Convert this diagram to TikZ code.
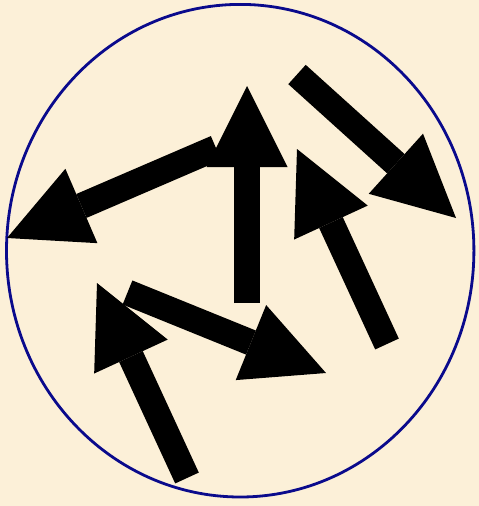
\documentclass[tikz,border=0pt]{standalone}
\usepackage{tikz}
\usetikzlibrary{arrows.meta}
\definecolor{PaperBeige}{HTML}{FCF0D8}
\definecolor{RimNavy}{HTML}{0A0A8C}

\begin{document}
\begin{tikzpicture}[x=1pt,y=-1pt,
 bigarrow/.style={line width=26pt,-{Triangle[length=81pt,width=81pt,line width=0pt]}}]
 \fill[PaperBeige] (0,0) rectangle (479,506);
 \useasboundingbox (0,0) rectangle (479,506);
 \draw[RimNavy,line width=2.8pt] (240.2,250.7) ellipse [x radius=233.7,y radius=246.3];
 % tails and tips
 \coordinate (upT) at (247,303);    \coordinate (upH) at (247,86);
 \coordinate (leftT) at (216,148);  \coordinate (leftH) at (7,238);
 \coordinate (diagT) at (297,74.5); \coordinate (diagH) at (456,218);
 \coordinate (riseT) at (387,344);  \coordinate (riseH) at (297,149);
 \coordinate (lowT) at (127.5,292.5); \coordinate (lowH) at (326,373);
 \coordinate (footT) at (187,478);  \coordinate (footH) at (97,283);
 \draw[bigarrow] (leftT) -- (leftH);
 \draw[bigarrow] (upT) -- (upH);
 \draw[bigarrow] (diagT) -- (diagH);
 \draw[bigarrow] (riseT) -- (riseH);
 \draw[bigarrow] (lowT) -- (lowH);
 \draw[bigarrow] (footT) -- (footH);
\end{tikzpicture}
\end{document}
